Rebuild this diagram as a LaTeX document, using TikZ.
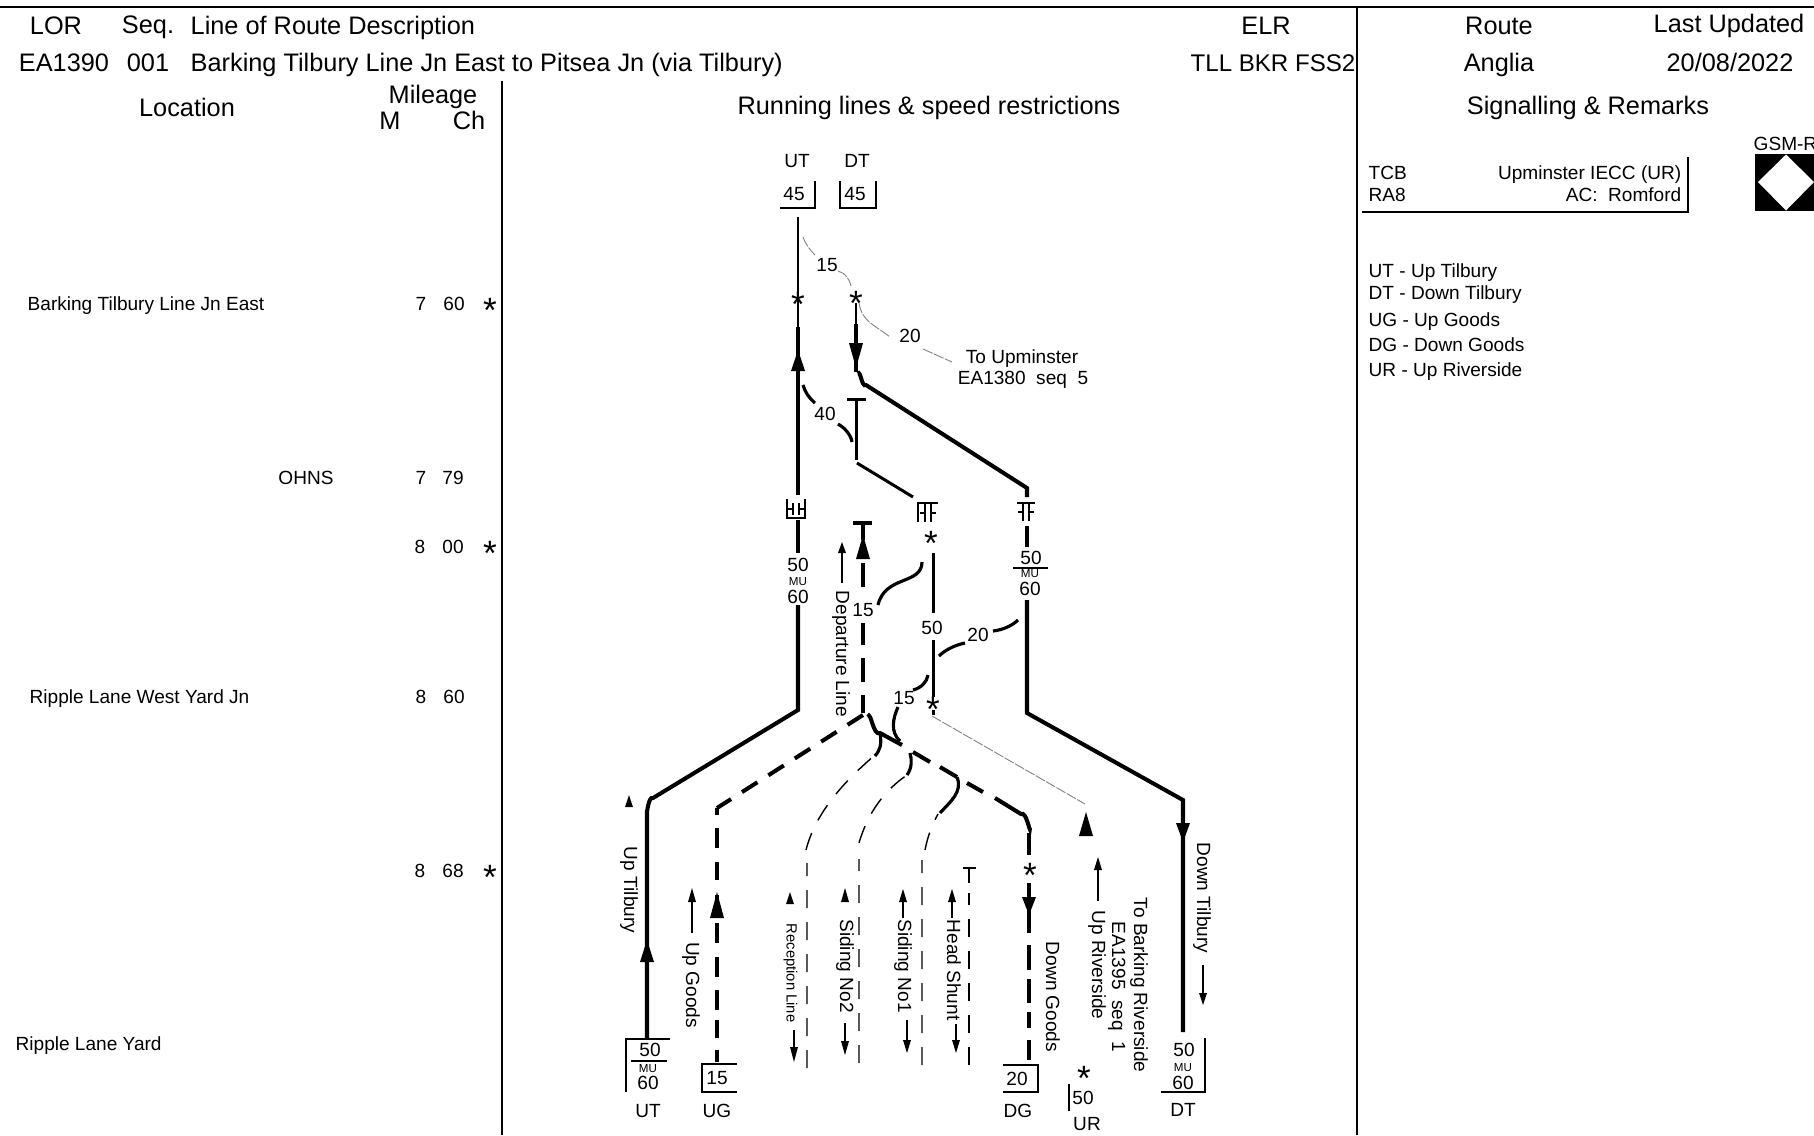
\documentclass[tikz,border=0pt]{standalone}
\usepackage{fontspec}
\setmainfont{Liberation Sans}
\usetikzlibrary{calc}

\newcommand{\headsize}{\fontsize{7.2}{8.5}\selectfont}
\newcommand{\textsize}{\fontsize{5.42}{6.4}\selectfont}
\newcommand{\recsize}{\fontsize{4.2}{5}\selectfont}
\newcommand{\musize}{\fontsize{3.3}{4}\selectfont}
% filled track arrows: x, tip y, base y, half width
\newcommand{\tiparrow}[4]{\fill (#1,#2) -- (#1-#4,#3) -- (#1+#4,#3) -- cycle;}
% insulation sign: centre x, centre y, half height
\newcommand{\jointmark}[3]{\draw[signline] (#1-2.75,#2-#3) -- (#1-2.75,#2+#3) (#1+2.75,#2-#3) -- (#1+2.75,#2+#3) (#1-8,#2) -- (#1-2.75,#2) (#1+2.75,#2) -- (#1+8,#2);}

\tikzset{
  every node/.style={inner sep=0pt, font=\textsize, text height=3.9pt, text depth=0pt},
  headtext/.style={font=\headsize, text height=5.2pt},
  elrtext/.style={font=\fontsize{6.85}{8}\selectfont, text height=5pt},
  mutext/.style={font=\musize, text height=2.4pt},
  rectext/.style={font=\recsize, text height=3pt},
  frameline/.style={line width=0.4pt},
  trackmain/.style={line width=1.15pt},
  trackmid/.style={line width=0.85pt},
  trackthin/.style={line width=0.5pt},
  sidingline/.style={line width=0.4pt, dash pattern=on 5.1pt off 4pt},
  speedfine/.style={line width=0.25pt, gray, dash pattern=on 3pt off 0.4pt},
  speedcurve/.style={line width=0.9pt},
  signline/.style={line width=0.5pt},
  boxline/.style={line width=0.35pt},
  starmark/.style={font=\fontsize{10}{10}\selectfont, text height=7.2pt, yshift=-0.6mm},
  smalltip/.style={line width=0.3pt},
}

\begin{document}
\begin{tikzpicture}[x=0.01cm, y=-0.01cm]
  \useasboundingbox (0,0) rectangle (1814,1135);

  % Frame
  \draw[frameline] (0,7) -- (1814,7);
  \draw[frameline] (1357,7) -- (1357,1135);
  \draw[frameline] (502,81) -- (502,1135);

  % Header
  \node[headtext] (lorhead) at (56,25) {LOR};
  \node[headtext] (seqhead) at (148,24) {Seq.};
  \node[headtext, right] (deschead) at (190,25) {Line of Route Description};
  \node[headtext] (elrhead) at (1266,25) {ELR};
  \node[headtext] (routehead) at (1499,25) {Route};
  \node[headtext] (updatehead) at (1729,23) {Last Updated};
  \node[headtext] (loraval) at (64,62) {EA1390};
  \node[headtext] (seqval) at (148,62) {001};
  \node[headtext, right] (descval) at (190,62) {Barking Tilbury Line Jn East to Pitsea Jn (via Tilbury)};
  \node[elrtext] (elrval) at (1273,63) {TLL BKR FSS2};
  \node[headtext] (routeval) at (1499,62) {Anglia};
  \node[headtext] (updateval) at (1730,62) {20/08/2022};
  \node[headtext] (lochead) at (187,107) {Location};
  \node[headtext] (milehead) at (433,94) {Mileage};
  \node[headtext] (mhead) at (390,120) {M};
  \node[headtext] (chhead) at (469,120) {Ch};
  \node[headtext] (runhead) at (929,105) {Running lines \& speed restrictions};
  \node[headtext] (sighead) at (1588,105) {Signalling \& Remarks};

  % Locations
  \node[right] (locbark) at (27,304) {Barking Tilbury Line Jn East};
  \node (m1) at (421,304) {7}; \node (c1) at (454,304) {60};
  \node[starmark] (s1) at (490,304) {*};
  \node (locohns) at (306,478) {OHNS};
  \node (m2) at (421,478) {7}; \node (c2) at (453,478) {79};
  \node (m3) at (420,547) {8}; \node (c3) at (453,547) {00};
  \node[starmark] (s3) at (490,547) {*};
  \node[right] (locripw) at (29,697) {Ripple Lane West Yard Jn};
  \node (m4) at (421,697) {8}; \node (c4) at (454,697) {60};
  \node (m5) at (420,871) {8}; \node (c5) at (453,871) {68};
  \node[starmark] (s5) at (490,871) {*};
  \node[right] (locrip) at (15,1044) {Ripple Lane Yard};

  % Top boards
  \node (utname) at (797,161) {UT};
  \node (dtname) at (857,161) {DT};
  \draw[boxline] (780,208) -- (815,208) -- (815,181);
  \node (utspeed) at (794,194) {45};
  \draw[boxline] (840,181) -- (840,208) -- (876,208) -- (876,181);
  \node (dtspeed) at (855,194) {45};

  % Up Tilbury
  \draw[trackthin] (798,217) -- (798,327);
  \node[starmark] (utstar) at (798,298) {*};
  \draw[trackmain] (798,327) -- (798,495);
  \tiparrow{798}{350}{371}{7}
  \jointmark{796}{509}{6}
  \draw[signline] (787,499) -- (787,518) -- (805,518) -- (805,499);
  \draw[trackmain] (798,520) -- (798,553);
  \node (ut50) at (798,565) {50};
  \node[mutext] (utmu) at (798,581) {MU};
  \node (ut60) at (798,597) {60};
  \draw[trackmain] (798,605) -- (798,710) -- (653,798) to[out=152, in=-90] (647,810) -- (647,1038);
  \tiparrow{647}{940}{962}{7}

  % Down Tilbury
  \draw[trackthin] (856,303) -- (856,324);
  \node[starmark] (dtstar) at (856,297) {*};
  \draw[trackmain] (856,324) -- (856,372);
  \tiparrow{856}{368}{343}{7}
  \draw[trackmain] (858,374) to[out=60, in=-147] (866,385) -- (1027,488) -- (1027,497);
  \jointmark{1026}{512}{9}
  \draw[signline] (1017,503) -- (1035,503);
  \draw[trackmain] (1027,526) -- (1027,547);
  \node (dt50) at (1031,558) {50};
  \draw[boxline] (1013,568) -- (1048,568);
  \node[mutext] (dtmu) at (1030,573) {MU};
  \node (dt60) at (1030,589) {60};
  \draw[trackmain] (1027,600) -- (1027,713) -- (1183,800) -- (1183,1032);
  \tiparrow{1183}{842}{823}{7}

  % Centre line
  \draw[trackmid] (847,399) -- (866,399) (856,399) -- (856,460);
  \draw[trackmid] (857,463) -- (913,497);
  \jointmark{928}{513}{9}
  \draw[signline] (918,522) -- (918,503) -- (938,503);
  \node[starmark] (midstar1) at (931,537) {*};
  \draw[trackmid] (933,553) -- (933,613);
  \node (mid50) at (932,628) {50};
  \draw[trackmid] (933,640) -- (933,697) (933,710) -- (933,715);
  \node[starmark] (midstar2) at (933,703) {*};
  \draw[speedfine] (932,716) -- (1085,804);

  % Departure line to Up Goods
  \draw[trackmain, line width=1.2pt] (853,523) -- (872,523);
  \draw[trackmain] (863,523) -- (863,540);
  \tiparrow{863}{535}{559}{7}
  \draw[trackmain] (863,563) -- (863,587) (863,623) -- (863,645) (863,658) -- (863,682) (863,695) -- (863,713);
  \draw[trackmain, dash pattern=on 5.2pt off 3.7pt] (863,715) -- (717,808);
  \draw[trackmain] (717,808) -- (717,815) (717,828) -- (717,848) (717,862) -- (717,880) (717,895) -- (717,918) (717,923) -- (717,943) (717,957) -- (717,977) (717,990) -- (717,1010) (717,1020) -- (717,1038) (717,1050) -- (717,1062);
  \tiparrow{717}{892}{918}{7}

  % Down Goods
  \draw[trackmain] (868,717) to[out=70, in=-150] (880,733) -- (902,745);
  \draw[trackmain] (913,752) -- (930,762) (940,767) -- (957,777) (967,783) -- (983,792) (995,798) -- (1021,814) to[out=35, in=-90] (1030,828);
  \draw[trackmain] (1029,833) -- (1029,855) (1029,883) -- (1029,933) (1029,945) -- (1029,970) (1029,979) -- (1029,1003) (1029,1012) -- (1029,1028) (1029,1040) -- (1029,1060);
  \node[starmark] (dgstar) at (1030,869) {*};
  \tiparrow{1029}{915}{897}{7}

  % Sidings
  \draw[sidingline] (807,1068) -- (807,863) (806,850) .. controls (815,815) and (840,785) .. (875,755);
  \draw[speedcurve] (875,756) .. controls (880,750) and (882,745) .. (880,733);
  \draw[sidingline] (859,1063) -- (859,859) (859,843) .. controls (868,812) and (885,790) .. (907,775);
  \draw[speedcurve] (907,775) .. controls (912,768) and (912,760) .. (910,753);
  \draw[sidingline] (922,1065) -- (922,860) (925,850) .. controls (928,835) and (932,825) .. (938,814);
  \draw[speedcurve] (940,813) .. controls (950,802) and (963,792) .. (957,777);
  \draw[sidingline] (969,1065) -- (969,893);
  \draw[line width=0.4pt] (969,868) -- (969,883);
  \draw[trackthin] (963,868) -- (976,868);

  % Speed curves
  \draw[speedfine] (803,237) .. controls (806,245) and (810,250) .. (815,255);
  \node (sp15a) at (827,265) {15};
  \draw[speedfine] (838,271) .. controls (845,273) and (849,278) .. (851,286);
  \draw[speedfine] (859,303) .. controls (862,322) and (875,325) .. (890,337);
  \node (sp20a) at (910,336) {20};
  \draw[speedfine] (923,349) -- (952,362);
  \node (toupm) at (1022,357) {To Upminster};
  \node (toupmb) at (1023,378) {EA1380\ \ seq\ \ 5};
  \draw[speedcurve] (803,385) .. controls (805,392) and (809,398) .. (815,403);
  \node (sp40) at (825,414) {40};
  \draw[speedcurve] (838,424) .. controls (845,428) and (851,435) .. (852,442);
  \draw[speedcurve] (922,562) .. controls (922,585) and (885,575) .. (878,605);
  \node (sp15b) at (863,610) {15};
  \draw[speedcurve] (1018,620) .. controls (1012,626) and (1002,630) .. (993,631);
  \node (sp20b) at (978,635) {20};
  \draw[speedcurve] (965,643) .. controls (955,645) and (945,650) .. (939,656);
  \draw[speedcurve] (928,675) .. controls (927,682) and (921,688) .. (913,690);
  \node (sp15c) at (904,698) {15};
  \draw[speedcurve] (898,707) .. controls (893,718) and (890,732) .. (900,741);

  % Track names
  \tiparrow{629}{795}{807}{4}
  \node[rotate=-90] (upt) at (631,890) {Up Tilbury};
  \tiparrow{692}{888}{902}{4}
  \draw[smalltip] (692,902) -- (692,933);
  \node[rotate=-90] (upg) at (693,985) {Up Goods};
  \tiparrow{790}{892}{904}{4}
  \node[rotate=-90, rectext] (recl) at (792,973) {Reception Line};
  \draw[smalltip] (794,1030) -- (794,1047);
  \tiparrow{794}{1062}{1047}{4}
  \tiparrow{845}{888}{902}{4}
  \node[rotate=-90] (sid2) at (847,966) {Siding No2};
  \draw[smalltip] (845,1023) -- (845,1041);
  \tiparrow{845}{1055}{1041}{4}
  \tiparrow{903}{889}{902}{4}
  \draw[smalltip] (903,902) -- (903,918);
  \node[rotate=-90] (sid1) at (905,966) {Siding No1};
  \draw[smalltip] (907,1020) -- (907,1040);
  \tiparrow{907}{1053}{1040}{4}
  \tiparrow{952}{889}{902}{4}
  \draw[smalltip] (952,902) -- (952,918);
  \node[rotate=-90] (hshunt) at (954,970) {Head Shunt};
  \draw[smalltip] (956,1024) -- (956,1040);
  \tiparrow{956}{1053}{1040}{4}
  \tiparrow{842}{542}{553}{4}
  \draw[smalltip] (842,553) -- (842,583);
  \node[rotate=-90] (depl) at (843,654) {Departure Line};
  \node[rotate=-90] (dng) at (1053,997) {Down Goods};
  \tiparrow{1086}{812}{836}{7}
  \tiparrow{1098}{857}{870}{4}
  \draw[smalltip] (1098,870) -- (1098,901);
  \node[rotate=-90] (upr) at (1099,965) {Up Riverside};
  \node[rotate=-90] (tobark) at (1141,985) {To Barking Riverside};
  \node[rotate=-90] (tobarkb) at (1119,987) {EA1395\ \ seq\ \ 1};
  \node[rotate=-90] (dnt) at (1204,898) {Down Tilbury};
  \draw[smalltip] (1203,965) -- (1203,993);
  \tiparrow{1203}{1005}{993}{4}

  % Bottom boards
  \draw[boxline] (626,1092) -- (626,1039) -- (670,1039);
  \draw[boxline] (631,1061) -- (667,1061);
  \node (ubn50) at (650,1050) {50};
  \node[mutext] (ubnmu) at (648,1068) {MU};
  \node (ubn60) at (648,1083) {60};
  \node (ubnname) at (648,1111) {UT};
  \draw[boxline] (737,1064) -- (702,1064) -- (702,1092) -- (737,1092);
  \node (ugn15) at (717,1078) {15};
  \node (ugnname) at (717,1111) {UG};
  \draw[boxline] (1003,1065) -- (1038,1065) -- (1038,1092) -- (1003,1092);
  \node (dgn20) at (1017,1079) {20};
  \node (dgnname) at (1018,1111) {DG};
  \node[starmark] (urstar) at (1084,1072) {*};
  \draw[boxline] (1069,1084) -- (1069,1111);
  \node (urn50) at (1083,1098) {50};
  \node (urnname) at (1087,1124) {UR};
  \draw[boxline] (1161,1092) -- (1205,1092) -- (1205,1038);
  \node (dbn50) at (1184,1050) {50};
  \node[mutext] (dbnmu) at (1183,1067) {MU};
  \node (dbn60) at (1183,1083) {60};
  \node (dbnname) at (1183,1110) {DT};

  % Signalling panel
  \node[right] (tcb) at (1368,173) {TCB};
  \node[right] (ra8) at (1368,195) {RA8};
  \node[left] (iecc) at (1682,173) {Upminster IECC (UR)};
  \node[left] (accon) at (1682,195) {AC:\ \ Romford};
  \draw[frameline] (1688,157) -- (1688,212) -- (1362,212);
  \node[right] (gsmname) at (1753,144) {GSM-R};
  \fill (1755,154) rectangle (1814,211);
  \fill[white] (1786,154.5) -- (1814,182) -- (1786,210.5) -- (1758,182) -- cycle;

  % Abbreviations
  \node[right] (keyut) at (1368,271) {UT - Up Tilbury};
  \node[right] (keydt) at (1368,293) {DT - Down Tilbury};
  \node[right] (keyug) at (1368,320) {UG - Up Goods};
  \node[right] (keydg) at (1368,345) {DG - Down Goods};
  \node[right] (keyur) at (1368,370) {UR - Up Riverside};
\end{tikzpicture}
\end{document}
